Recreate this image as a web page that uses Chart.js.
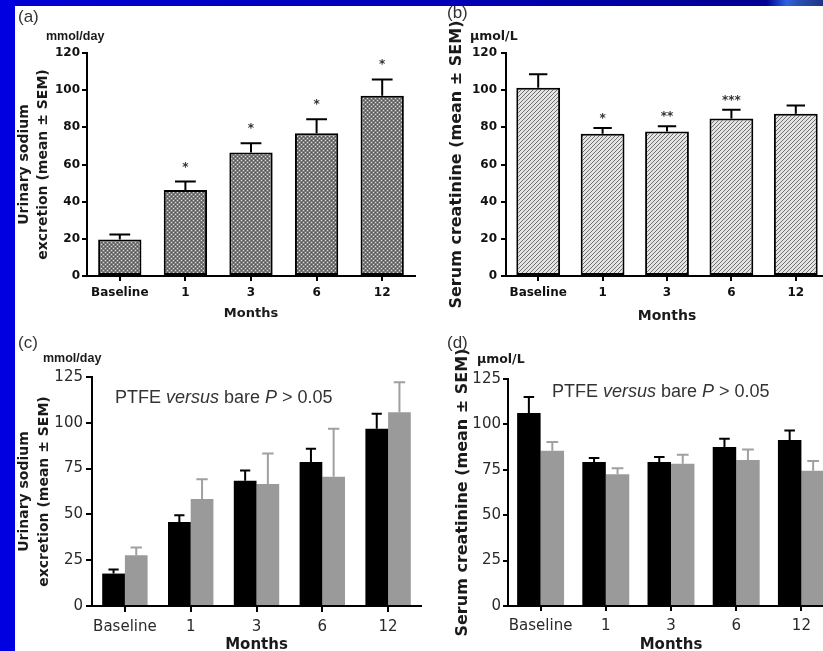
<!DOCTYPE html>
<html><head><meta charset="utf-8">
<script src="https://cdn.jsdelivr.net/npm/chart.js@4.4.1/dist/chart.umd.min.js"></script>
<style>
html,body{margin:0;padding:0;width:823px;height:651px;overflow:hidden;background:#0000e0;}
#panel{position:absolute;left:15px;top:6px;width:808px;height:645px;background:#fff;}
#topbar{position:absolute;left:15px;top:0;width:808px;height:6px;background:linear-gradient(90deg,#0000d4 0%,#0000b4 55%,#000092 93%,#2f62e0 95.5%,#2c4fb0 97%,#1c3488 100%);}
canvas{position:absolute;}
.lbl{position:absolute;font-family:"Liberation Sans",Arial,sans-serif;color:#2a2a2a;white-space:nowrap;line-height:1;}
.unit{font-weight:bold;font-size:12.5px;color:#1a1a1a;}
.pnl{font-size:17px;color:#333;}
.note{font-size:18px;color:#333;}
</style></head>
<body>
<div id="topbar"></div>
<div id="panel"></div>
<canvas id="cA" width="410" height="316" style="left:15px;top:6px"></canvas>
<canvas id="cB" width="410" height="320" style="left:425px;top:6px"></canvas>
<canvas id="cC" width="410" height="340" style="left:15px;top:322px"></canvas>
<canvas id="cD" width="420" height="340" style="left:425px;top:322px"></canvas>
<div class="lbl pnl" style="left:18px;top:8px">(a)</div>
<div class="lbl pnl" style="left:447px;top:4px">(b)</div>
<div class="lbl pnl" style="left:18px;top:334px">(c)</div>
<div class="lbl pnl" style="left:447px;top:334px">(d)</div>
<div class="lbl unit" style="left:46px;top:30px">mmol/day</div>
<div class="lbl unit" style="left:470px;top:30px;font-family:'DejaVu Sans'">µmol/L</div>
<div class="lbl unit" style="left:43px;top:352px">mmol/day</div>
<div class="lbl unit" style="left:477px;top:353px;font-family:'DejaVu Sans'">µmol/L</div>
<div class="lbl note" style="left:115px;top:388px">PTFE <i>versus</i> bare <i>P</i> &gt; 0.05</div>
<div class="lbl note" style="left:552px;top:382px">PTFE <i>versus</i> bare <i>P</i> &gt; 0.05</div>
<script>
// ---- data ----
const categories = ['Baseline', '1', '3', '6', '12'];
const sodiumMean = [19.6, 46.3, 66.4, 76.8, 97.0];
const sodiumSem = [2.7, 4.5, 5.0, 7.5, 8.8];
const sodiumStars = ['', '*', '*', '*', '*'];
const creatMean = [101.3, 76.6, 77.8, 84.8, 87.3];
const creatSem = [7.3, 3.0, 2.8, 4.6, 4.4];
const creatStars = ['', '*', '**', '***', ''];
const sodiumPtfe = [17.7, 45.9, 68.4, 78.6, 96.8];
const sodiumPtfeSem = [2.2, 3.6, 5.5, 7.3, 8.2];
const sodiumBare = [27.7, 58.4, 66.6, 70.6, 105.7];
const sodiumBareSem = [4.2, 10.8, 16.6, 26.2, 16.4];
const creatPtfe = [106.3, 79.3, 79.3, 87.5, 91.4];
const creatPtfeSem = [8.8, 2.2, 2.7, 4.6, 5.3];
const creatBare = [85.5, 72.6, 78.3, 80.4, 74.5];
const creatBareSem = [4.8, 3.3, 5.0, 5.8, 5.3];
const ticksTop = [120, 120, 125, 125];
const tickSteps = [20, 20, 25, 25];

function dotPattern() {
  const c = document.createElement('canvas'); c.width = 4; c.height = 4;
  const g = c.getContext('2d');
  g.fillStyle = '#7a7a7a'; g.fillRect(0, 0, 4, 4);
  g.fillStyle = '#dcdcdc'; g.fillRect(0, 0, 1, 1); g.fillRect(2, 2, 1, 1);
  g.fillStyle = '#555'; g.fillRect(2, 0, 1, 1); g.fillRect(0, 2, 1, 1);
  return g.createPattern(c, 'repeat');
}
function hatchPattern() {
  const c = document.createElement('canvas'); c.width = 4; c.height = 4;
  const g = c.getContext('2d');
  g.fillStyle = '#e4e4e4'; g.fillRect(0, 0, 4, 4);
  g.fillStyle = '#707070';
  for (let i = 0; i < 4; i++) g.fillRect(i, 3 - i, 1, 1);
  return g.createPattern(c, 'repeat');
}

const errorBars = {
  id: 'errorBars',
  afterDatasetsDraw(chart) {
    const ctx = chart.ctx, ys = chart.scales.y;
    chart.data.datasets.forEach((ds, di) => {
      if (!ds.sem) return;
      const meta = chart.getDatasetMeta(di);
      meta.data.forEach((bar, i) => {
        const p = bar.getProps(['x', 'width'], true);
        const top = ys.getPixelForValue(ds.data[i]);
        const end = ys.getPixelForValue(ds.data[i] + ds.sem[i]);
        const h = p.width * ds.capFrac / 2;
        ctx.save();
        ctx.strokeStyle = ds.errColor; ctx.lineWidth = 2;
        ctx.beginPath();
        ctx.moveTo(p.x, top); ctx.lineTo(p.x, end);
        ctx.moveTo(p.x - h, end); ctx.lineTo(p.x + h, end);
        ctx.stroke();
        if (ds.stars && ds.stars[i]) {
          ctx.fillStyle = '#333';
          ctx.font = 'bold 12px "DejaVu Sans"';
          ctx.textAlign = 'center'; ctx.textBaseline = 'alphabetic';
          ctx.fillText(ds.stars[i], p.x, end + ds.starOff);
        }
        ctx.restore();
      });
    });
  }
};

function build(id, datasets, o) {
  return new Chart(document.getElementById(id), {
    type: 'bar',
    data: { labels: categories, datasets },
    options: {
      responsive: false, animation: false, devicePixelRatio: 1,
      layout: { padding: o.padding },
      plugins: { legend: { display: false }, tooltip: { enabled: false } },
      scales: {
        x: {
          grid: { offset: false, drawOnChartArea: false, color: '#000', lineWidth: 2, tickLength: o.xTick, tickWidth: 2 },
          border: { color: '#000', width: 2 },
          ticks: { color: o.tickColor, font: o.xTickFont, padding: o.xTickPad, autoSkip: false, maxRotation: 0 },
          title: { display: true, text: 'Months', color: '#1a1a1a', font: o.xTitleFont, padding: o.xTitlePad },
          afterFit: s => { s.height = o.xH; }
        },
        y: {
          min: 0, max: o.max,
          grid: { drawOnChartArea: false, color: '#000', lineWidth: 2, tickLength: o.yTick, tickWidth: 2 },
          border: { color: '#000', width: 2 },
          ticks: { stepSize: o.step, color: o.tickColor, font: o.yTickFont, padding: o.yTickPad },
          title: { display: true, text: o.yTitle, color: '#1a1a1a', font: o.yTitleFont, padding: o.yTitlePad },
          afterFit: s => { s.width = o.yW; }
        }
      }
    },
    plugins: [errorBars]
  });
}

const boldTick = { family: 'DejaVu Sans', weight: 'bold', size: 12 };
const normTick = { family: 'DejaVu Sans', size: 15 };

build('cA', [{
  label: 'Urinary sodium', data: sodiumMean, sem: sodiumSem, stars: sodiumStars,
  backgroundColor: dotPattern(), borderColor: '#000', borderWidth: 2, borderSkipped: false,
  categoryPercentage: 0.66, barPercentage: 1, errColor: '#000', capFrac: 0.48, starOff: -11
}], {
  padding: { left: 0, top: 47, right: 10, bottom: 0 }, yW: 72, xH: 46,
  max: ticksTop[0], step: tickSteps[0], tickColor: '#111',
  xTick: 5, yTick: 5, xTickPad: 5, yTickPad: 2, xTickFont: boldTick, yTickFont: boldTick,
  xTitleFont: { family: 'DejaVu Sans', weight: 'bold', size: 13 }, xTitlePad: { top: 0, bottom: 1 },
  yTitle: ['Urinary sodium', 'excretion (mean ± SEM)'],
  yTitleFont: { family: 'DejaVu Sans', weight: 'bold', size: 14, lineHeight: 1.36 }, yTitlePad: { top: 0, bottom: 0 }
});

build('cB', [{
  label: 'Serum creatinine', data: creatMean, sem: creatSem, stars: creatStars,
  backgroundColor: hatchPattern(), borderColor: '#000', borderWidth: 2, borderSkipped: false,
  categoryPercentage: 0.68, barPercentage: 1, errColor: '#000', capFrac: 0.42, starOff: -6
}], {
  padding: { left: 0, top: 47, right: 7, bottom: 0 }, yW: 81, xH: 50,
  max: ticksTop[1], step: tickSteps[1], tickColor: '#111',
  xTick: 5, yTick: 5, xTickPad: 5, yTickPad: 4, xTickFont: boldTick, yTickFont: boldTick,
  xTitleFont: { family: 'DejaVu Sans', weight: 'bold', size: 14 }, xTitlePad: { top: 0, bottom: 1 },
  yTitle: 'Serum creatinine (mean ± SEM)',
  yTitleFont: { family: 'DejaVu Sans', weight: 'bold', size: 16 }, yTitlePad: { top: 22, bottom: 0 }
});

build('cC', [{
  label: 'PTFE', data: sodiumPtfe, sem: sodiumPtfeSem, backgroundColor: '#000', borderWidth: 0,
  categoryPercentage: 0.69, barPercentage: 1, errColor: '#000', capFrac: 0.45
}, {
  label: 'Bare', data: sodiumBare, sem: sodiumBareSem, backgroundColor: '#9a9a9a', borderWidth: 0,
  categoryPercentage: 0.69, barPercentage: 1, errColor: '#a0a0a0', capFrac: 0.5
}], {
  padding: { left: 0, top: 55, right: 4, bottom: 0 }, yW: 77, xH: 56,
  max: ticksTop[2], step: tickSteps[2], tickColor: '#2a2a2a',
  xTick: 6, yTick: 6, xTickPad: 6, yTickPad: 3, xTickFont: normTick, yTickFont: normTick,
  xTitleFont: { family: 'DejaVu Sans', weight: 'bold', size: 15 }, xTitlePad: { top: 0, bottom: 8 },
  yTitle: ['Urinary sodium', 'excretion (mean ± SEM)'],
  yTitleFont: { family: 'DejaVu Sans', weight: 'bold', size: 14, lineHeight: 1.4 }, yTitlePad: { top: 0, bottom: 0 }
});

build('cD', [{
  label: 'PTFE', data: creatPtfe, sem: creatPtfeSem, backgroundColor: '#000', borderWidth: 0,
  categoryPercentage: 0.72, barPercentage: 1, errColor: '#000', capFrac: 0.45
}, {
  label: 'Bare', data: creatBare, sem: creatBareSem, backgroundColor: '#9a9a9a', borderWidth: 0,
  categoryPercentage: 0.72, barPercentage: 1, errColor: '#a0a0a0', capFrac: 0.5
}], {
  padding: { left: 0, top: 57, right: 11, bottom: 0 }, yW: 83, xH: 56,
  max: ticksTop[3], step: tickSteps[3], tickColor: '#2a2a2a',
  xTick: 5, yTick: 5, xTickPad: 6, yTickPad: 2, xTickFont: normTick, yTickFont: normTick,
  xTitleFont: { family: 'DejaVu Sans', weight: 'bold', size: 15 }, xTitlePad: { top: 0, bottom: 8 },
  yTitle: 'Serum creatinine (mean ± SEM)',
  yTitleFont: { family: 'DejaVu Sans', weight: 'bold', size: 16 }, yTitlePad: { top: 28, bottom: 0 }
});
</script>
</body></html>
